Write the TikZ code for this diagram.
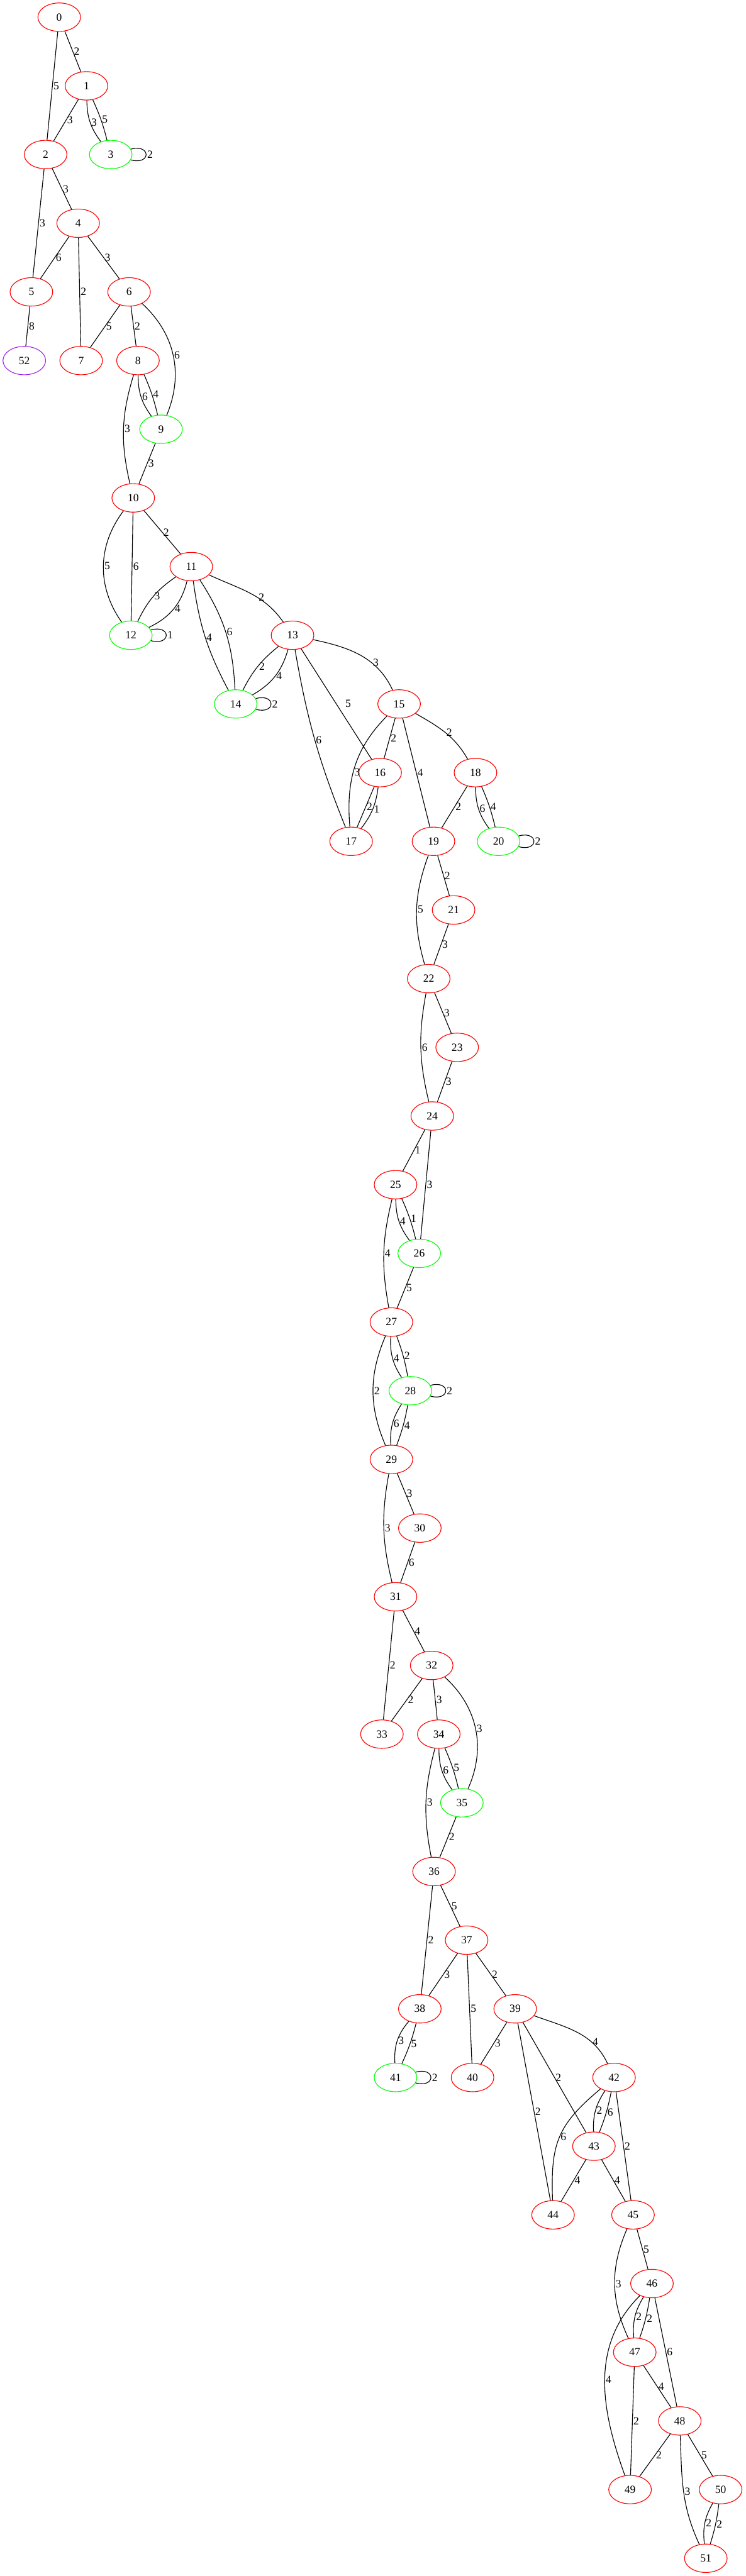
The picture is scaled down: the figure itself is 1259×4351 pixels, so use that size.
\documentclass[tikz,border=0pt]{standalone}
\usepackage{fontspec}
\setmainfont{Liberation Serif}
\usetikzlibrary{shapes.geometric}
\definecolor{StRed}{HTML}{FF0000}
\definecolor{StGreen}{HTML}{00FF00}
\definecolor{StPurple}{HTML}{A020F0}

\begin{document}
\begin{tikzpicture}[
    x=0.75pt, y=0.75pt,
    st/.style={
        ellipse,
        draw=StRed,
        line width=0.9pt,
        minimum width=54pt,
        minimum height=36pt,
        inner sep=0pt,
        font=\fontsize{14}{16}\selectfont
    },
    acc/.style={st, draw=StGreen},
    dead/.style={st, draw=StPurple},
    every edge/.style={draw=black, line width=0.9pt},
    lbl/.style={right, inner sep=1pt, font=\fontsize{14}{16}\selectfont},
    selfloop/.style={out=15, in=-15, looseness=5},
    twin l/.style={bend right=18},
    twin r/.style={bend left=5}
]
\useasboundingbox (0,0) rectangle (1259,-4351);

\node[st] (n0) at (100,-29) {0};
\node[st] (n1) at (146,-145) {1};
\node[st] (n2) at (77,-261) {2};
\node[acc] (n3) at (187,-261) {3};
\node[st] (n4) at (132,-377) {4};
\node[st] (n5) at (53,-493) {5};
\node[st] (n6) at (218,-493) {6};
\node[dead] (n52) at (41,-609) {52};
\node[st] (n7) at (137,-609) {7};
\node[st] (n8) at (233,-609) {8};
\node[acc] (n9) at (272,-725) {9};
\node[st] (n10) at (225,-841) {10};
\node[st] (n11) at (323,-957) {11};
\node[acc] (n12) at (221,-1073) {12};
\node[st] (n13) at (494,-1073) {13};
\node[acc] (n14) at (398,-1189) {14};
\node[st] (n15) at (674,-1189) {15};
\node[st] (n16) at (642,-1305) {16};
\node[st] (n18) at (803,-1305) {18};
\node[st] (n17) at (593,-1421) {17};
\node[st] (n19) at (732,-1421) {19};
\node[acc] (n20) at (842,-1421) {20};
\node[st] (n21) at (766,-1537) {21};
\node[st] (n22) at (724,-1653) {22};
\node[st] (n23) at (772,-1769) {23};
\node[st] (n24) at (730,-1885) {24};
\node[st] (n25) at (668,-2001) {25};
\node[acc] (n26) at (708,-2117) {26};
\node[st] (n27) at (661,-2233) {27};
\node[acc] (n28) at (693,-2349) {28};
\node[st] (n29) at (661,-2465) {29};
\node[st] (n30) at (709,-2581) {30};
\node[st] (n31) at (668,-2697) {31};
\node[st] (n32) at (729,-2813) {32};
\node[st] (n33) at (645,-2929) {33};
\node[st] (n34) at (741,-2929) {34};
\node[acc] (n35) at (780,-3045) {35};
\node[st] (n36) at (733,-3161) {36};
\node[st] (n37) at (788,-3277) {37};
\node[st] (n38) at (709,-3393) {38};
\node[st] (n39) at (870,-3393) {39};
\node[acc] (n41) at (668,-3509) {41};
\node[st] (n40) at (798,-3509) {40};
\node[st] (n42) at (1037,-3509) {42};
\node[st] (n43) at (1003,-3625) {43};
\node[st] (n44) at (934,-3741) {44};
\node[st] (n45) at (1069,-3741) {45};
\node[st] (n46) at (1101,-3857) {46};
\node[st] (n47) at (1072,-3973) {47};
\node[st] (n48) at (1148,-4089) {48};
\node[st] (n49) at (1064,-4205) {49};
\node[st] (n50) at (1217,-4205) {50};
\node[st] (n51) at (1192,-4321) {51};

% 0 to 10
\path (n0) edge node[lbl] {2} (n1);
\path (n0) edge node[lbl] {5} (n2);
\path (n1) edge node[lbl] {3} (n2);
\path (n1) edge[twin l] node[lbl] {3} (n3);
\path (n1) edge[twin r] node[lbl] {5} (n3);
\path (n3) edge[selfloop] node[lbl] {2} (n3);
\path (n2) edge node[lbl] {3} (n4);
\path (n2) edge node[lbl] {3} (n5);
\path (n4) edge node[lbl] {6} (n5);
\path (n4) edge node[lbl] {2} (n7);
\path (n4) edge node[lbl] {3} (n6);
\path (n5) edge node[lbl] {8} (n52);
\path (n6) edge node[lbl] {5} (n7);
\path (n6) edge node[lbl] {2} (n8);
\path (n6) edge[bend left=35] node[lbl] {6} (n9);
\path (n8) edge[twin l] node[lbl] {6} (n9);
\path (n8) edge[twin r] node[lbl] {4} (n9);
\path (n8) edge[bend right=15] node[lbl] {3} (n10);
\path (n9) edge node[lbl] {3} (n10);

% 10 to 20
\path (n10) edge[bend right=36] node[lbl] {5} (n12);
\path (n10) edge node[lbl] {6} (n12);
\path (n10) edge node[lbl] {2} (n11);
\path (n11) edge[bend right=15] node[lbl] {3} (n12);
\path (n11) edge[bend left=25] node[lbl] {4} (n12);
\path (n12) edge[selfloop] node[lbl] {1} (n12);
\path (n11) edge[bend right=10] node[lbl] {4} (n14);
\path (n11) edge[bend left=15] node[lbl] {6} (n14);
\path (n11) edge[out=-25, in=125] node[lbl, pos=0.6] {2} (n13);
\path (n13) edge[bend right=12] node[lbl] {2} (n14);
\path (n13) edge[bend left=22] node[lbl] {4} (n14);
\path (n14) edge[selfloop] node[lbl] {2} (n14);
\path (n13) edge[bend right=6] node[lbl] {6} (n17);
\path (n13) edge node[lbl, xshift=10pt] {5} (n16);
\path (n13) edge[out=-12, in=115] node[lbl, pos=0.65] {3} (n15);
\path (n15) edge[out=-135, in=95] node[lbl, pos=0.55] {3} (n17);
\path (n15) edge node[lbl] {2} (n16);
\path (n15) edge node[lbl] {4} (n19);
\path (n15) edge[out=-30, in=120] node[lbl] {2} (n18);
\path (n16) edge node[lbl] {2} (n17);
\path (n16) edge[bend left=15] node[lbl] {1} (n17);
\path (n18) edge node[lbl] {2} (n19);
\path (n18) edge[twin l] node[lbl] {6} (n20);
\path (n18) edge[twin r] node[lbl] {4} (n20);
\path (n20) edge[selfloop] node[lbl] {2} (n20);

% 19 to 31
\path (n19) edge[bend right=18] node[lbl] {5} (n22);
\path (n19) edge node[lbl] {2} (n21);
\path (n21) edge node[lbl] {3} (n22);
\path (n22) edge[bend right=12] node[lbl] {6} (n24);
\path (n22) edge node[lbl] {3} (n23);
\path (n23) edge node[lbl] {3} (n24);
\path (n24) edge node[lbl] {1} (n25);
\path (n24) edge node[lbl] {3} (n26);
\path (n25) edge[twin l] node[lbl] {4} (n26);
\path (n25) edge[twin r] node[lbl] {1} (n26);
\path (n25) edge[bend right=12] node[lbl] {4} (n27);
\path (n26) edge node[lbl] {5} (n27);
\path (n27) edge[bend right=23] node[lbl] {2} (n29);
\path (n27) edge[twin l] node[lbl] {4} (n28);
\path (n27) edge[twin r] node[lbl] {2} (n28);
\path (n28) edge[selfloop] node[lbl] {2} (n28);
\path (n28) edge[twin l] node[lbl] {6} (n29);
\path (n28) edge[twin r] node[lbl] {4} (n29);
\path (n29) edge[bend right=12] node[lbl] {3} (n31);
\path (n29) edge node[lbl] {3} (n30);
\path (n30) edge node[lbl] {6} (n31);

% 31 to 41
\path (n31) edge node[lbl] {2} (n33);
\path (n31) edge node[lbl] {4} (n32);
\path (n32) edge node[lbl] {2} (n33);
\path (n32) edge node[lbl] {3} (n34);
\path (n32) edge[bend left=36] node[lbl] {3} (n35);
\path (n34) edge[twin l] node[lbl] {6} (n35);
\path (n34) edge[twin r] node[lbl] {5} (n35);
\path (n34) edge[bend right=13] node[lbl] {3} (n36);
\path (n35) edge node[lbl] {2} (n36);
\path (n36) edge node[lbl] {2} (n38);
\path (n36) edge node[lbl] {5} (n37);
\path (n37) edge node[lbl] {3} (n38);
\path (n37) edge node[lbl] {5} (n40);
\path (n37) edge node[lbl] {2} (n39);
\path (n38) edge[bend right=22] node[lbl] {3} (n41);
\path (n38) edge[twin r] node[lbl] {5} (n41);
\path (n41) edge[selfloop] node[lbl] {2} (n41);

% 39 to 51
\path (n39) edge node[lbl] {3} (n40);
\path (n39) edge node[lbl] {2} (n44);
\path (n39) edge node[lbl] {2} (n43);
\path (n39) edge[out=-20, in=115] node[lbl, pos=0.7] {4} (n42);
\path (n42) edge[twin l] node[lbl] {2} (n43);
\path (n42) edge[twin r] node[lbl] {6} (n43);
\path (n42) edge[out=-140, in=92, looseness=1.2] node[lbl] {6} (n44);
\path (n42) edge node[lbl] {2} (n45);
\path (n43) edge node[lbl] {4} (n44);
\path (n43) edge node[lbl] {4} (n45);
\path (n45) edge[bend right=24] node[lbl] {3} (n47);
\path (n45) edge node[lbl] {5} (n46);
\path (n46) edge[twin l] node[lbl] {2} (n47);
\path (n46) edge[twin r] node[lbl] {2} (n47);
\path (n46) edge[out=-135, in=110] node[lbl] {4} (n49);
\path (n46) edge node[lbl] {6} (n48);
\path (n47) edge node[lbl] {2} (n49);
\path (n47) edge node[lbl] {4} (n48);
\path (n48) edge node[lbl] {2} (n49);
\path (n48) edge[out=-88, in=115] node[lbl] {3} (n51);
\path (n48) edge node[lbl] {5} (n50);
\path (n50) edge[twin l] node[lbl] {2} (n51);
\path (n50) edge[twin r] node[lbl] {2} (n51);

\end{tikzpicture}
\end{document}
